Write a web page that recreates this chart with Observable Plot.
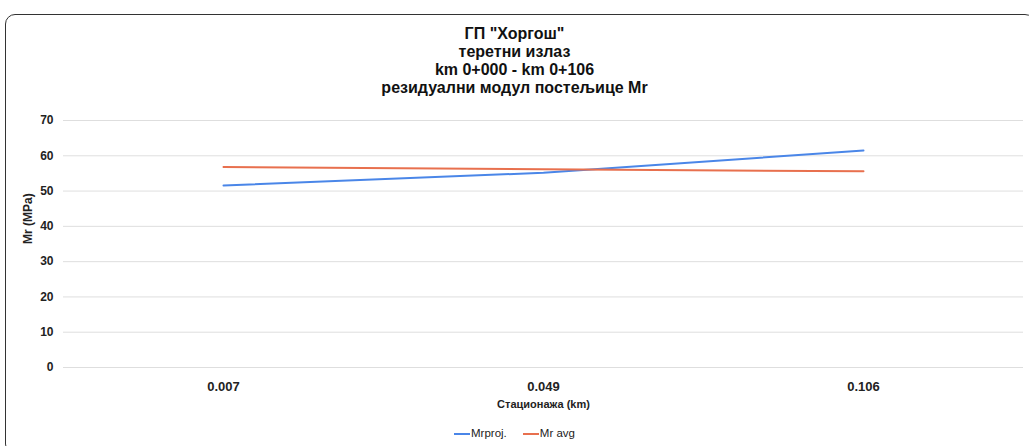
<!DOCTYPE html>
<html><head><meta charset="utf-8">
<script src="https://cdn.jsdelivr.net/npm/d3@7"></script>
<script src="https://cdn.jsdelivr.net/npm/@observablehq/plot@0.6"></script>
<style>
body{margin:0;background:#fff;font-family:"Liberation Sans",Arial,sans-serif;}
#frame{position:absolute;left:5px;top:14px;width:1030px;height:440px;border:1.5px solid #333;border-radius:10px;box-sizing:border-box;}
#title{position:absolute;left:0;top:25px;width:1029px;text-align:center;font-family:"Liberation Sans Narrow","Liberation Sans",Arial,sans-serif;font-weight:bold;font-size:16px;line-height:18px;color:#111;}
#chart{position:absolute;left:6px;top:110px;}
#legend{position:absolute;left:0;top:427px;width:1029px;text-align:center;font-size:11.5px;color:#222;}
.sw{display:inline-block;width:16px;height:2px;vertical-align:middle;margin-right:1px;}
</style></head><body>
<div id="frame"></div>
<div id="title">ГП "Хоргош"<br>теретни излаз<br>km 0+000 - km 0+106<br>резидуални модул постељице Mr</div>
<div id="chart"></div>
<div id="legend"><span class="sw" style="background:#4a86e8"></span>Mrproj.&nbsp;&nbsp;&nbsp;&nbsp;&nbsp;<span class="sw" style="background:#e8704e"></span>Mr avg</div>
<script>
const stations = ["0.007","0.049","0.106"];
const mrProj = [51.6, 55.2, 61.5];
const mrAvg = [56.8, 56.2, 55.6];
const yTicks = [0,10,20,30,40,50,60,70];

const data = [];
stations.forEach((s,i)=>{
  data.push({s, v: mrProj[i], series:"Mrproj."});
  data.push({s, v: mrAvg[i], series:"Mr avg"});
});

const plot = Plot.plot({
  width: 1023,
  height: 310,
  marginTop: 10,
  marginBottom: 53,
  marginLeft: 57,
  marginRight: 6,
  style: {fontFamily: '"Liberation Sans", Arial, sans-serif', background: "transparent", color: "#222"},
  x: {type: "point", domain: stations, padding: 0.5, label: null},
  y: {domain: [0,70], ticks: yTicks, label: null},
  color: {domain: ["Mrproj.","Mr avg"], range: ["#4a86e8","#e8704e"]},
  marks: [
    Plot.gridY(yTicks, {stroke: "#d6d6d6", strokeOpacity: 1, strokeWidth: 0.8}),
    Plot.axisY({ticks: yTicks, tickSize: 0, tickPadding: 10, fontSize: 12, fontWeight: "bold", label: null}),
    Plot.axisX({tickSize: 0, tickPadding: 14, fontSize: 13, fontWeight: "bold", label: null}),
    Plot.line(data, {x: "s", y: "v", z: "series", stroke: "series", strokeWidth: 2}),
    Plot.text(["Mr (MPa)"], {frameAnchor: "left", dx: -35, rotate: -90, fontSize: 12, fontWeight: "bold"}),
    Plot.text(["Стационажа (km)"], {frameAnchor: "bottom", dy: 40, fontSize: 11, fontWeight: "bold"})
  ]
});
document.getElementById("chart").appendChild(plot);
</script>
</body></html>
